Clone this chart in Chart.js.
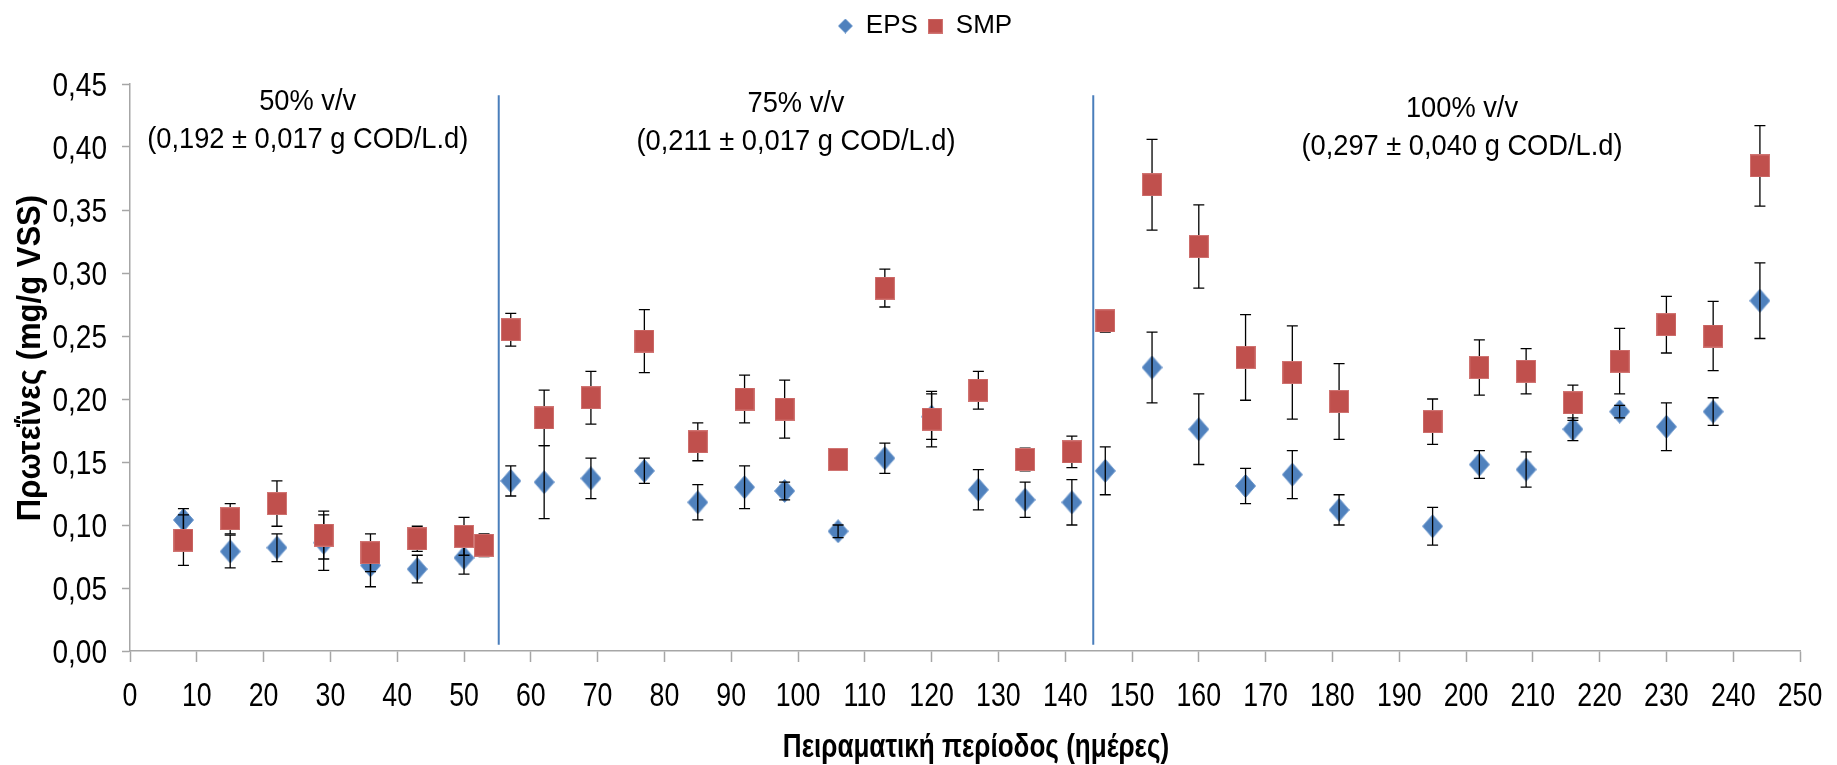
<!DOCTYPE html>
<html>
<head>
<meta charset="utf-8">
<script src="https://cdn.jsdelivr.net/npm/chart.js@4.4.1/dist/chart.umd.min.js"></script>
<style>
    html, body { margin: 0; padding: 0; background: #fff; }
    #wrap { width: 1837px; height: 765px; position: relative; }
</style>
</head>
<body>
<div id="wrap"><canvas id="protein-chart"></canvas></div>
<script>
// sampling days (experimental period)
const days = [8, 15, 22, 29, 36, 43, 50, 53, 57, 62, 69, 77, 85, 92, 98, 106, 113, 120, 127, 134, 141,
              146, 153, 160, 167, 174, 181, 195, 202, 209, 216, 223, 230, 237, 244];

// proteins in EPS (mg/g VSS) and standard deviation, no EPS sample on day 53
const epsValues = [0.104, 0.079, 0.082, 0.086, 0.068, 0.065, 0.074, null, 0.135, 0.134, 0.137, 0.143, 0.118, 0.130, 0.127, 0.095, 0.153, 0.186, 0.128, 0.120, 0.118,
                   0.143, 0.225, 0.176, 0.131, 0.140, 0.112, 0.099, 0.148, 0.144, 0.176, 0.190, 0.178, 0.190, 0.278];
const epsErrors = [0.009, 0.013, 0.011, 0.022, 0.017, 0.011, 0.013, null, 0.012, 0.029, 0.016, 0.010, 0.014, 0.017, 0.007, 0.005, 0.012, 0.018, 0.016, 0.014, 0.018,
                   0.019, 0.028, 0.028, 0.014, 0.019, 0.012, 0.015, 0.011, 0.014, 0.009, 0.005, 0.019, 0.011, 0.030];

// proteins in SMP (mg/g VSS) and standard deviation
const smpValues = [0.088, 0.105, 0.117, 0.092, 0.078, 0.089, 0.091, 0.084, 0.255, 0.185, 0.201, 0.246, 0.166, 0.200, 0.192, 0.152, 0.288, 0.184, 0.207, 0.152, 0.158,
                   0.262, 0.370, 0.321, 0.233, 0.221, 0.198, 0.182, 0.225, 0.222, 0.197, 0.230, 0.259, 0.250, 0.385];
const smpErrors = [0.020, 0.012, 0.018, 0.019, 0.015, 0.010, 0.015, 0.009, 0.013, 0.022, 0.021, 0.025, 0.015, 0.019, 0.023, 0.004, 0.015, 0.022, 0.015, 0.009, 0.0125,
                   0.009, 0.036, 0.033, 0.034, 0.037, 0.030, 0.018, 0.022, 0.018, 0.014, 0.026, 0.0225, 0.0275, 0.032];

// feed ratio changes and period labels
const phaseBoundaries = [55.2, 144.2];
const phaseLabels = [
    ['50% v/v', '(0,192 ± 0,017 g COD/L.d)'],
    ['75% v/v', '(0,211 ± 0,017 g COD/L.d)'],
    ['100% v/v', '(0,297 ± 0,040 g COD/L.d)']
];

const xTitle = 'Πειραματική περίοδος (ημέρες)';
const yTitle = 'Πρωτεΐνες (mg/g VSS)';

const SANS = "'Liberation Sans', Arial, sans-serif";
const axisColor = '#A6A6A6';

function toPoints(values, errors) {
    const points = [];
    days.forEach((d, i) => {
        if (values[i] === null) return;
        points.push({ x: d, y: values[i], err: errors[i] });
    });
    return points;
}

function formatY(v) {
    return v.toFixed(2).replace('.', ',');
}

// markers are a bit taller than wide in the original figure
function makeSquare(w, h, fill, stroke) {
    const c = document.createElement('canvas');
    c.width = w; c.height = h;
    const ctx = c.getContext('2d');
    ctx.fillStyle = fill;
    ctx.fillRect(0, 0, w, h);
    ctx.strokeStyle = stroke;
    ctx.lineWidth = 1;
    ctx.strokeRect(0.5, 0.5, w - 1, h - 1);
    return c;
}

function makeDiamond(w, h, fill, stroke) {
    const c = document.createElement('canvas');
    c.width = w; c.height = h;
    const ctx = c.getContext('2d');
    ctx.beginPath();
    ctx.moveTo(w / 2, 0.5);
    ctx.lineTo(w - 0.5, h / 2);
    ctx.lineTo(w / 2, h - 0.5);
    ctx.lineTo(0.5, h / 2);
    ctx.closePath();
    ctx.fillStyle = fill;
    ctx.fill();
    ctx.strokeStyle = stroke;
    ctx.lineWidth = 1;
    ctx.stroke();
    return c;
}

const epsMarker = makeDiamond(21, 24, '#4F81BD', '#6A96CC');
const smpMarker = makeSquare(20, 23, '#C0504D', '#D07472');
const legendMarkers = [makeDiamond(15, 15, '#4F81BD', '#6A96CC'), makeSquare(15, 15, '#C0504D', '#D07472')];

function squeezed(ctx, text, x, y, sx) {
    ctx.save();
    ctx.translate(x, y);
    ctx.scale(sx, 1);
    ctx.fillText(text, 0, 0);
    ctx.restore();
}

const errorBars = {
    id: 'errorBars',
    drawBars(chart, index) {
        const ds = chart.data.datasets[index];
        const meta = chart.getDatasetMeta(index);
        const yScale = chart.scales.y;
        const ctx = chart.ctx;
        ctx.save();
        ctx.strokeStyle = '#000';
        ctx.lineWidth = 1.3;
        meta.data.forEach((pt, i) => {
            const p = ds.data[i];
            if (!p || p.err == null) return;
            const top = yScale.getPixelForValue(p.y + p.err);
            const bottom = yScale.getPixelForValue(p.y - p.err);
            ctx.beginPath();
            ctx.moveTo(pt.x, top);
            ctx.lineTo(pt.x, bottom);
            ctx.moveTo(pt.x - 5.5, top);
            ctx.lineTo(pt.x + 5.5, top);
            ctx.moveTo(pt.x - 5.5, bottom);
            ctx.lineTo(pt.x + 5.5, bottom);
            ctx.stroke();
        });
        ctx.restore();
    },
    beforeDatasetDraw(chart, args) {
        if (!chart.data.datasets[args.index].errorsOnTop) this.drawBars(chart, args.index);
    },
    afterDatasetDraw(chart, args) {
        if (chart.data.datasets[args.index].errorsOnTop) this.drawBars(chart, args.index);
    }
};

const phases = {
    id: 'phases',
    beforeDatasetsDraw(chart) {
        const { ctx, scales: { x, y } } = chart;
        ctx.save();
        ctx.strokeStyle = '#4A7EBB';
        ctx.lineWidth = 2;
        phaseBoundaries.forEach(b => {
            const px = x.getPixelForValue(b);
            ctx.beginPath();
            ctx.moveTo(px, y.getPixelForValue(0.441));
            ctx.lineTo(px, y.getPixelForValue(0.005));
            ctx.stroke();
        });
        ctx.restore();
    },
    afterDraw(chart, args, opts) {
        const { ctx, scales: { x, y } } = chart;
        ctx.save();
        ctx.fillStyle = '#000';
        ctx.textAlign = 'center';
        ctx.textBaseline = 'middle';
        ctx.font = '29px ' + SANS;
        phaseLabels.forEach((lines, i) => {
            const pos = opts.positions[i];
            const px = x.getPixelForValue(pos.x);
            const py = y.getPixelForValue(pos.y);
            lines.forEach((txt, j) => squeezed(ctx, txt, px, py + j * 38, 0.94));
        });
        ctx.restore();
    }
};

// tick labels and axis titles are drawn condensed, like the original figure
const axisText = {
    id: 'axisText',
    afterDraw(chart) {
        const { ctx, chartArea, scales: { x, y } } = chart;
        ctx.save();
        ctx.fillStyle = '#000';
        ctx.textBaseline = 'alphabetic';

        ctx.font = '33px ' + SANS;
        ctx.textAlign = 'center';
        x.ticks.forEach(t => squeezed(ctx, String(t.value), x.getPixelForValue(t.value), x.top + 55, 0.81));
        ctx.textAlign = 'right';
        y.ticks.forEach(t => squeezed(ctx, formatY(t.value), y.right - 23, y.getPixelForValue(t.value) + 11.5, 0.85));

        ctx.font = 'bold 33px ' + SANS;
        ctx.textAlign = 'center';
        squeezed(ctx, xTitle, (chartArea.left + chartArea.right) / 2 + 11, x.top + 106, 0.79);

        ctx.translate(39.5, (chartArea.top + chartArea.bottom) / 2 - 9.5);
        ctx.rotate(-Math.PI / 2);
        squeezed(ctx, yTitle, 0, 0, 0.94);
        ctx.restore();
    }
};

// legend sits higher than the space reserved above the plot
const legendShift = {
    id: 'legendShift',
    afterLayout(chart) {
        const lg = chart.legend;
        lg.top -= 35; lg.bottom -= 35;
        lg.left += 25; lg.right += 25;
    }
};

new Chart(document.getElementById('protein-chart'), {
    type: 'scatter',
    data: {
        datasets: [{
            label: 'EPS',
            data: toPoints(epsValues, epsErrors),
            errorsOnTop: true,
            order: 1,
            pointStyle: epsMarker,
            pointRadius: 10,
            backgroundColor: '#4F81BD',
            borderColor: '#6A96CC'
        }, {
            label: 'SMP',
            data: toPoints(smpValues, smpErrors),
            order: 0,
            pointStyle: smpMarker,
            pointRadius: 10,
            backgroundColor: '#C0504D',
            borderColor: '#D07472'
        }]
    },
    options: {
        responsive: true,
        maintainAspectRatio: false,
        animation: false,
        events: [],
        layout: { padding: { left: 0, right: 37, top: 38, bottom: 0 } },
        plugins: {
            tooltip: { enabled: false },
            legend: {
                position: 'top',
                labels: {
                    usePointStyle: true,
                    boxWidth: 15,
                    boxHeight: 15,
                    padding: 10,
                    color: '#000',
                    font: { family: SANS, size: 26 },
                    sort: (a, b) => a.datasetIndex - b.datasetIndex,
                    generateLabels: chart => Chart.defaults.plugins.legend.labels.generateLabels(chart)
                        .map(item => Object.assign(item, { pointStyle: legendMarkers[item.datasetIndex] }))
                }
            },
            phases: {
                positions: [{ x: 26.6, y: 0.4357 }, { x: 99.7, y: 0.4341 }, { x: 199.4, y: 0.4302 }]
            }
        },
        scales: {
            x: {
                type: 'linear',
                min: 0,
                max: 250,
                afterFit: s => { s.height = 114; },
                border: { color: axisColor, width: 1.5 },
                grid: { drawOnChartArea: false, color: axisColor, tickLength: 11, tickWidth: 1.5 },
                ticks: { stepSize: 10, autoSkip: false, maxRotation: 0, display: false },
                title: { display: false }
            },
            y: {
                min: 0,
                max: 0.45,
                afterFit: s => { s.width = 130; },
                border: { color: axisColor, width: 1.5 },
                grid: { drawOnChartArea: false, color: axisColor, tickLength: 8, tickWidth: 1.5 },
                ticks: { stepSize: 0.05, display: false },
                title: { display: false }
            }
        }
    },
    plugins: [errorBars, phases, axisText, legendShift]
});
</script>
</body>
</html>
